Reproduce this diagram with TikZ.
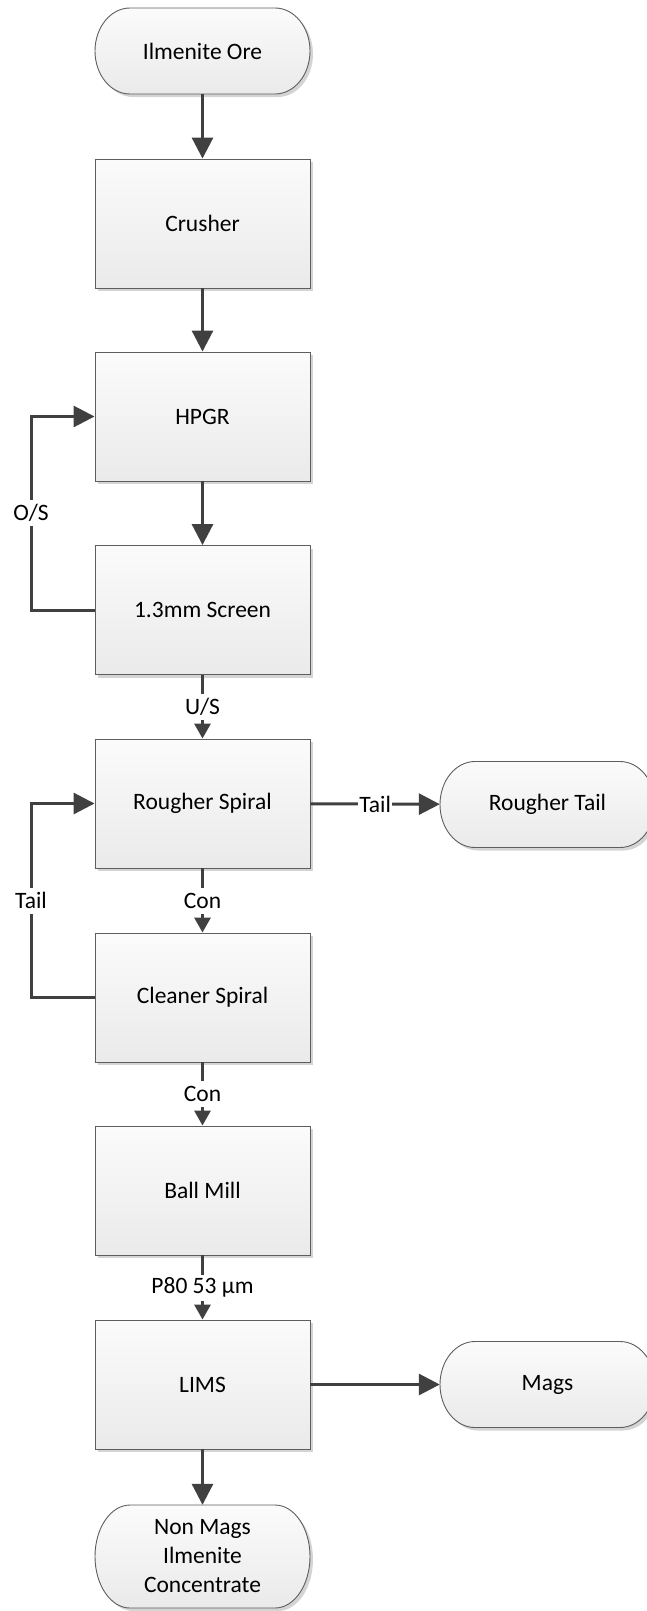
\documentclass[tikz,border=0pt]{standalone}
\usepackage{fontspec}
\setmainfont{Carlito}
\usetikzlibrary{arrows.meta,shadows}

\definecolor{edge}{HTML}{404040}
\definecolor{rim}{HTML}{5E5E5E}
\definecolor{shadeTop}{HTML}{FBFBFB}
\definecolor{shadeBot}{HTML}{EAEAEA}
\definecolor{shadowc}{HTML}{D4D4D4}

\tikzset{
  every node/.style={font=\fontsize{23.5pt}{29pt}\selectfont},
  softshadow/.style={general shadow={shadow xshift=3pt, shadow yshift=-3pt, fill=shadowc}},
  procbox/.style={rectangle, draw=rim, line width=0.9pt, top color=shadeTop,
    bottom color=shadeBot, minimum width=215pt, minimum height=129pt, softshadow},
  termtext/.style={rectangle, minimum width=215pt, inner sep=0pt, align=center},
  flow/.style={draw=edge, line width=3pt, -{Triangle[length=21pt,width=21pt]}},
  tagflow/.style={draw=edge, line width=3pt, -{Triangle[length=15pt,width=16pt]}},
  tag/.style={fill=white, inner xsep=1.5pt, inner ysep=0pt, minimum height=26pt},
}

% terminator outline: centre x, centre y, half width, half height
\newcommand\termshape[4]{%
  \shade[draw=rim, line width=0.9pt, top color=shadeTop, bottom color=shadeBot, softshadow]
    ({#1-#3+35},{#2-#4}) -- ({#1+#3-35},{#2-#4})
    arc[start angle=90, end angle=-90, x radius=35pt, y radius=#4pt]
    -- ({#1-#3+35},{#2+#4})
    arc[start angle=270, end angle=90, x radius=35pt, y radius=#4pt]
    -- cycle;}

\begin{document}
\begin{tikzpicture}[x=1pt, y=-1pt]
\useasboundingbox (0,0) rectangle (647,1611);

% terminators
\termshape{202.5}{51}{107.5}{43}
\node[termtext, minimum height=86pt] (ore) at (202.5,51) {Ilmenite Ore};

\termshape{547.5}{804.5}{107.5}{43}
\node[termtext, minimum height=86pt] (rtail) at (547.5,804.5) {Rougher Tail};

\termshape{547.5}{1384.5}{107.5}{43}
\node[termtext, minimum height=86pt] (mags) at (547.5,1384.5) {Mags};

\termshape{202.5}{1556.5}{107.5}{51.5}
\node[termtext, minimum height=103pt] (nonmags) at (202.5,1556.5) {Non Mags\\Ilmenite\\Concentrate};

% process units
\node[procbox] (crusher)  at (202.5,223.5)  {Crusher};
\node[procbox] (hpgr)     at (202.5,416.5)  {HPGR};
\node[procbox] (screen)   at (202.5,610)    {1.3mm Screen};
\node[procbox] (rougher)  at (202.5,803.5)  {Rougher Spiral};
\node[procbox] (cleaner)  at (202.5,997.5)  {Cleaner Spiral};
\node[procbox] (ballmill) at (202.5,1190.5) {Ball Mill};
\node[procbox] (lims)     at (202.5,1384.5) {LIMS};

% main flow
\draw[flow] (ore) -- (crusher);
\draw[flow] (crusher) -- (hpgr);
\draw[flow] (hpgr) -- (screen);
\draw[tagflow] (screen) -- node[tag] {U/S} (rougher);
\draw[tagflow] (rougher) -- node[tag] {Con} (cleaner);
\draw[tagflow] (cleaner) -- node[tag] {Con} (ballmill);
\draw[tagflow] (ballmill) -- node[tag] {P80 53 µm} (lims);
\draw[flow] (lims) -- (nonmags);
\draw[flow] (lims) -- (mags);
\draw[flow] (rougher) -- node[tag] {Tail} (rtail);

% recycle loops
\coordinate (osbend) at (31,610);
\coordinate (tailbend) at (31,997.5);
\draw[flow] (screen.west) -- (osbend) |- node[tag, pos=0.25] {O/S} (hpgr.west);
\draw[flow] (cleaner.west) -- (tailbend) |- node[tag, pos=0.25] {Tail} (rougher.west);
\end{tikzpicture}
\end{document}
